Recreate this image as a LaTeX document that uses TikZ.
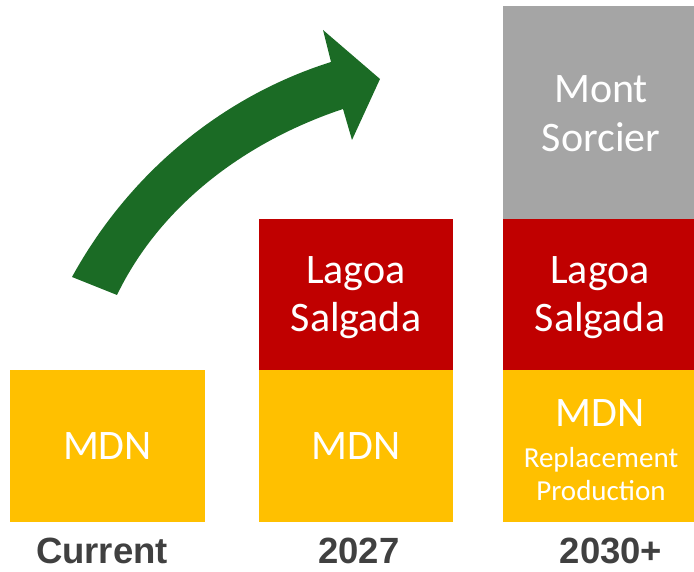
\documentclass[tikz,border=0pt]{standalone}
\usepackage{fontspec}
\setmainfont{Carlito}
\newfontfamily\labfont{Liberation Sans}
\definecolor{mdnyellow}{RGB}{255,192,0}
\definecolor{lsred}{RGB}{192,0,0}
\definecolor{msgray}{RGB}{165,165,165}
\definecolor{arrgreen}{RGB}{27,107,37}
\definecolor{labgray}{RGB}{64,64,64}
\begin{document}
\begin{tikzpicture}[x=1pt,y=1pt,
  box/.style={draw=none, inner sep=0pt, outer sep=0pt, text=white, align=center,
    font=\fontsize{42}{52}\selectfont},
  smalltxt/.style={text=white, inner sep=0pt, anchor=base, font=\fontsize{29}{33}\selectfont},
  bigtxt/.style={text=white, inner sep=0pt, anchor=base, font=\fontsize{42}{52}\selectfont},
  lab/.style={text=labgray, inner sep=0pt, anchor=base, font=\labfont\bfseries\fontsize{36.5}{40}\selectfont}]
\useasboundingbox (0,0) rectangle (694,572);
% arrow
\fill[arrgreen] (72,295) .. controls (128,397) and (220,475) .. (331,510)
  -- (323,542) -- (380,493) -- (352,432) -- (343,463)
  .. controls (247,431) and (161,368) .. (117,277) -- cycle;
% column 1
\node[box, fill=mdnyellow, minimum width=195, minimum height=152] (m1) at (107.5,126) {MDN};
% column 2
\node[box, fill=mdnyellow, minimum width=194, minimum height=152] (m2) at (356,126) {MDN};
\node[box, fill=lsred, minimum width=194, minimum height=151] (l2) at (356,277.5) {};
\node[bigtxt] (l2a) at (356,288) {Lagoa};
\node[bigtxt] (l2b) at (356,240) {Salgada};
% column 3
\node[box, fill=mdnyellow, minimum width=191, minimum height=152] (m3) at (598.5,126) {};
\node[box, fill=lsred, minimum width=191, minimum height=151] (l3) at (598.5,277.5) {};
\node[box, fill=msgray, minimum width=191, minimum height=213] (s3) at (598.5,459.5) {};
\node[bigtxt] (s3a) at (601,469) {Mont};
\node[bigtxt] (s3b) at (601,420) {Sorcier};
\node[bigtxt] (l3a) at (600,288) {Lagoa};
\node[bigtxt] (l3b) at (600,240) {Salgada};
\node[bigtxt] (m3t) at (600,145.5) {MDN};
\node[smalltxt] (m3r) at (601,104) {Replacement};
\node[smalltxt] (m3p) at (601,71) {Production};
% labels
\node[lab] (c1) at (102,8) {Current};
\node[lab] (c2) at (359,8) {2027};
\node[lab] (c3) at (611,8) {2030+};
\end{tikzpicture}
\end{document}
